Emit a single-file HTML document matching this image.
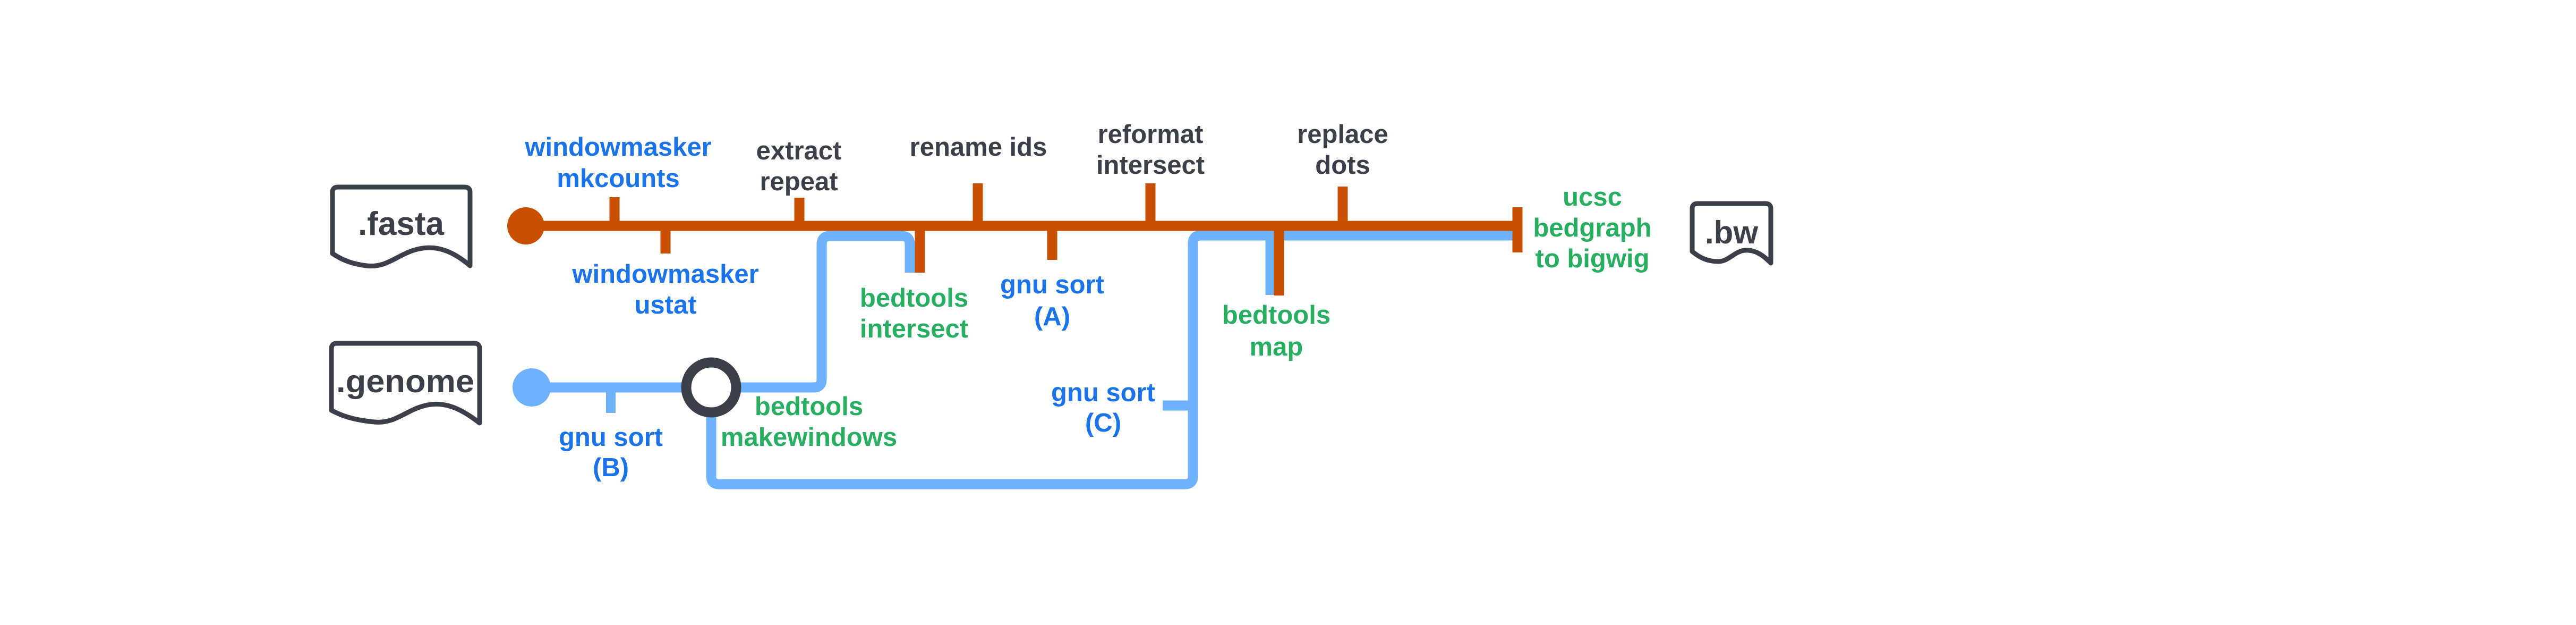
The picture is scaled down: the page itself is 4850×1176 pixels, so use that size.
<!DOCTYPE html>
<html><head><meta charset="utf-8"><style>
html,body{margin:0;padding:0;background:#fff;}
svg{display:block}
text{font-family:"Liberation Sans",sans-serif;font-weight:bold;font-size:49px;text-anchor:middle}
.b{fill:#1a73e8}.g{fill:#27ae60}.d{fill:#3a3f4a}
</style></head><body>
<svg width="4850" height="1176" viewBox="0 0 4850 1176" xmlns="http://www.w3.org/2000/svg">
<rect width="4850" height="1176" fill="#fff"/>
<g fill="none" stroke="#3a3f4a" stroke-width="9" stroke-linejoin="round">
<path d="M626,477 V362 Q626,352 636,352 H875 Q885,352 885,362 V500 C850,470 820,462 790,468 C750,476 730,505 690,500 C665,497 645,490 626,477 Z"/>
<path d="M624,772 V656 Q624,646 634,646 H893 Q903,646 903,656 V796 C865,766 835,756 805,762 C765,770 745,798 705,794 C675,791 650,786 624,772 Z"/>
<path d="M3186,473 V393 Q3186,383 3196,383 H3324 Q3334,383 3334,393 V495 C3315,475 3300,470 3285,471 C3265,473 3255,492 3235,492 C3215,492 3200,485 3186,473 Z"/>
</g>
<text class="d" x="755" y="442" style="font-size:62px">.fasta</text>
<text class="d" x="763" y="738" style="font-size:60px" textLength="260" lengthAdjust="spacingAndGlyphs">.genome</text>
<text class="d" x="3260" y="458" style="font-size:60px">.bw</text>
<g fill="none" stroke="#6eb1fc" stroke-width="19" stroke-linejoin="round">
<line x1="1001" y1="729" x2="1300" y2="729"/>
<path d="M1385,729 H1532 Q1547,729 1547,714 V460 Q1547,444 1563,444 H1698 Q1713,444 1713,460 V513"/>
<path d="M1339,776 V896 Q1339,911 1354,911 H2231 Q2246,911 2246,896 V458 Q2246,443 2261,443 H2848"/>
<path d="M2392,443 V555"/>
</g>
<line x1="1150" y1="729" x2="1150" y2="777" stroke="#6eb1fc" stroke-width="18"/>
<line x1="2189" y1="763" x2="2246" y2="763" stroke="#6eb1fc" stroke-width="19"/>
<circle cx="1001" cy="729" r="36" fill="#6eb1fc"/>
<circle cx="1339" cy="729" r="47" fill="#fff" stroke="#3a3f4a" stroke-width="19"/>
<g stroke="#c94f00" stroke-width="19">
<line x1="990" y1="425" x2="2848" y2="425"/>
<line x1="1157" y1="371" x2="1157" y2="425"/>
<line x1="1505" y1="372" x2="1505" y2="425"/>
<line x1="1841" y1="345" x2="1841" y2="425"/>
<line x1="2166" y1="345" x2="2166" y2="425"/>
<line x1="2528" y1="351" x2="2528" y2="425"/>
<line x1="1253" y1="425" x2="1253" y2="477"/>
<line x1="1732" y1="425" x2="1732" y2="513"/>
<line x1="1981" y1="425" x2="1981" y2="489"/>
<line x1="2408" y1="425" x2="2408" y2="556"/>
<line x1="2857" y1="390" x2="2857" y2="475"/>
</g>
<circle cx="990" cy="425" r="35" fill="#c94f00"/>
<text class="b" x="1164" y="293">windowmasker</text><text class="b" x="1164" y="352">mkcounts</text>
<text class="d" x="1504" y="300">extract</text><text class="d" x="1504" y="358">repeat</text>
<text class="d" x="1842" y="293">rename ids</text>
<text class="b" x="1253" y="532">windowmasker</text><text class="b" x="1253" y="590">ustat</text>
<text class="g" x="1721" y="577">bedtools</text><text class="g" x="1721" y="635">intersect</text>
<text class="b" x="1981" y="552">gnu sort</text><text class="b" x="1981" y="612">(A)</text>
<text class="d" x="2166" y="269">reformat</text><text class="d" x="2166" y="327">intersect</text>
<text class="d" x="2528" y="269">replace</text><text class="d" x="2528" y="327">dots</text>
<text class="g" x="2998" y="387">ucsc</text><text class="g" x="2998" y="445">bedgraph</text><text class="g" x="2998" y="503">to bigwig</text>
<text class="g" x="2403" y="609">bedtools</text><text class="g" x="2403" y="669">map</text>
<text class="b" x="2077" y="755">gnu sort</text><text class="b" x="2077" y="812">(C)</text>
<text class="b" x="1150" y="839">gnu sort</text><text class="b" x="1150" y="896">(B)</text>
<text class="g" x="1523" y="781">bedtools</text><text class="g" x="1523" y="839">makewindows</text>
</svg>
</body></html>
